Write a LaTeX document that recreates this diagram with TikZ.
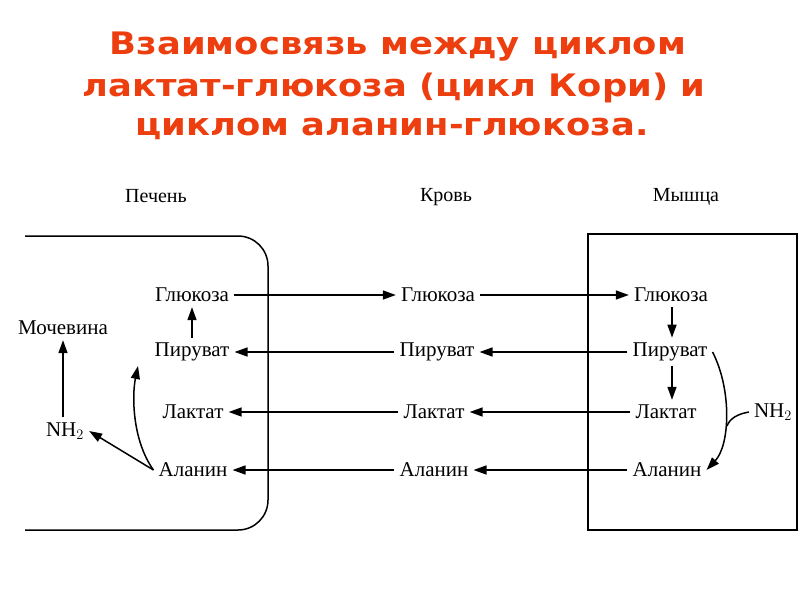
\documentclass[tikz,border=0pt]{standalone}
\usepackage{fontspec}
\setmainfont{Liberation Serif}
\newfontfamily\titlefont{DejaVu Sans}
\usetikzlibrary{arrows.meta}
\definecolor{titlered}{RGB}{236,62,14}
\newcommand{\ttlline}[1]{\scalebox{1.14}[1]{#1}}
\begin{document}
\begin{tikzpicture}[x=1pt,y=-1pt,
  lbl/.style={font=\fontsize{21}{23}\selectfont, inner sep=5pt},
  hdr/.style={font=\fontsize{20}{22}\selectfont, inner sep=0pt},
  ttl/.style={font=\titlefont\bfseries\fontsize{31}{34}\selectfont, text=titlered, inner sep=0pt},
  arr/.style={line width=1.5pt, -{Triangle[length=13pt,width=9pt]}},
  wall/.style={line width=1.5pt}]
\useasboundingbox (0,0) rectangle (800,600);
% title
\node[ttl] (t1) at (398,47) {\ttlline{Взаимосвязь между циклом}};
\node[ttl] (t2) at (394,88) {\ttlline{лактат-глюкоза (цикл Кори) и}};
\node[ttl] (t3) at (392,129) {\ttlline{циклом аланин-глюкоза.}};
% headers
\node[hdr] (hL) at (156,196) {Печень};
\node[hdr] (hB) at (446,197) {Кровь};
\node[hdr] (hM) at (686,197) {Мышца};
% liver wall
\draw[wall] (25,236) -- (238,236) to[out=0,in=90] (268,266) -- (268,500)
  to[out=-90,in=0] (238,530) -- (25,530);
% muscle box
\draw[wall] (588,234) rectangle (797,530);
% liver nodes
\node[lbl] (lG) at (192,295) {Глюкоза};
\node[lbl] (lP) at (192,352) {Пируват};
\node[lbl] (lL) at (193,412) {Лактат};
\node[lbl] (lA) at (193,470) {Аланин};
\node[lbl] (urea) at (63,328) {Мочевина};
\node[lbl] (lN) at (65,431) {NH$_2$};
% blood nodes
\node[lbl] (bG) at (438,295) {Глюкоза};
\node[lbl] (bP) at (437,352) {Пируват};
\node[lbl] (bL) at (434,412) {Лактат};
\node[lbl] (bA) at (434,470) {Аланин};
% muscle nodes
\node[lbl] (mG) at (671,295) {Глюкоза};
\node[lbl] (mP) at (670,352) {Пируват};
\node[lbl] (mL) at (666,412) {Лактат};
\node[lbl] (mA) at (667,470) {Аланин};
\node[lbl] (mN) at (773,412) {NH$_2$};
% horizontal transport
\draw[arr] (lG.east) -- (bG.west);
\draw[arr] (bG.east) -- (mG.west);
\foreach \r in {P,L,A}{
  \draw[arr] (m\r.west) -- (b\r.east);
  \draw[arr] (b\r.west) -- (l\r.east);
}
% liver internal
\draw[arr] (lP.north) -- (lP.north |- lG.south);
\draw[arr] (lN.north -| urea.south) -- (urea.south);
\draw[arr] (lA.west) -- (lN.east);
\draw[arr] (lA.west) .. controls (132,440) and (132,395) .. (138,366);
% muscle internal
\draw[arr] (mG.south -| 672,0) -- (mP.north -| 672,0);
\draw[arr] (mP.south -| 672,0) -- (mL.north -| 672,0);
\draw[arr] (mP.east) .. controls (732,390) and (730,445) .. (mA.east);
\coordinate (join) at (727,426);
\draw[line width=1.5pt] (mN.west) .. controls (738,414) and (730,418) .. (join);
\end{tikzpicture}
\end{document}
